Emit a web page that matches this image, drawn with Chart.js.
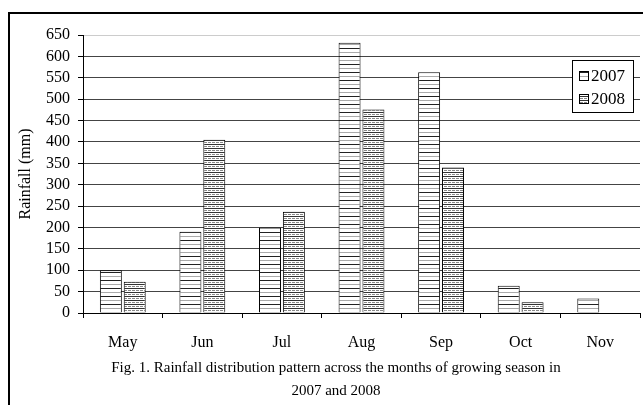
<!DOCTYPE html>
<html>
<head>
<meta charset="utf-8">
<script src="https://cdn.jsdelivr.net/npm/chart.js@4.4.1/dist/chart.umd.min.js"></script>
<style>
  html,body{margin:0;padding:0;background:#fff;}
  #wrap{position:relative;width:643px;height:405px;overflow:hidden;}
  #frame{position:absolute;left:8px;top:12px;width:700px;height:500px;border:2px solid #000;}
  canvas{position:absolute;left:0;top:0;}
</style>
</head>
<body>
<div id="wrap">
  <div id="frame"></div>
  <canvas id="rain" width="643" height="405"></canvas>
</div>
<script>
/* Rainfall distribution — Fig. 1 */
const months=['May','Jun','Jul','Aug','Sep','Oct','Nov'];
const rain2007=[100,190,200,632,563,64,34];
const rain2008=[73,405,237,476,340,25,0];
const seriesNames=['2007','2008'];
const yTicks=[0,50,100,150,200,250,300,350,400,450,500,550,600,650];
const caption=['Fig. 1. Rainfall distribution pattern across the months of growing season in','2007 and 2008'];
const serif='"Liberation Serif","Times New Roman",serif';

function makePattern(kind){
  const c=document.createElement('canvas');c.width=4;c.height=kind==='sparse'?8:4;
  const x=c.getContext('2d');x.fillStyle='#fff';x.fillRect(0,0,c.width,c.height);
  if(kind==='sparse'){x.fillStyle='#222';x.fillRect(0,0,4,1);x.fillStyle='#aaa';x.fillRect(0,4,4,1);}
  else{x.fillStyle='#333';x.fillRect(0,0,4,1);x.fillStyle='#888';x.fillRect(0,2,3,1);}
  return x.createPattern(c,'repeat');
}
const pat2007=makePattern('sparse');
const pat2008=makePattern('dense');

const decor={
  id:'decor',
  afterDraw(chart){
    const ctx=chart.ctx,a=chart.chartArea;
    ctx.save();
    // legend box
    const bx=a.right-68,by=a.top+25,bw=61,bh=52;
    ctx.fillStyle='#fff';ctx.fillRect(bx,by,bw,bh);
    ctx.strokeStyle='#000';ctx.lineWidth=1;ctx.strokeRect(bx+0.5,by+0.5,bw,bh);
    ctx.font='17px '+serif;ctx.textBaseline='middle';ctx.textAlign='left';
    chart.data.datasets.forEach(function(ds,i){
      const cy=by+16+i*23;
      ctx.fillStyle=ds.backgroundColor;ctx.fillRect(bx+7,cy-5,10,10);
      ctx.strokeStyle='#000';ctx.strokeRect(bx+7.5,cy-4.5,9,9);
      ctx.fillStyle='#000';ctx.fillText(ds.label,bx+19,cy+1);
    });
    // caption
    ctx.font='15px '+serif;ctx.textAlign='center';ctx.textBaseline='alphabetic';
    caption.forEach(function(t,i){ctx.fillText(t,336,372+i*23);});
    ctx.restore();
  }
};

new Chart(document.getElementById('rain'),{
  type:'bar',
  data:{labels:months,datasets:[
    {label:seriesNames[0],data:rain2007,backgroundColor:pat2007,borderColor:'#000',borderWidth:1,categoryPercentage:0.6,barPercentage:0.92},
    {label:seriesNames[1],data:rain2008,backgroundColor:pat2008,borderColor:'#000',borderWidth:1,categoryPercentage:0.6,barPercentage:0.92}
  ]},
  options:{
    responsive:false,animation:false,devicePixelRatio:1,
    layout:{padding:{left:0,right:3,top:35,bottom:0}},
    plugins:{legend:{display:false},tooltip:{enabled:false},title:{display:false}},
    scales:{
      x:{
        grid:{drawOnChartArea:false,offset:true,tickLength:5,color:'#000'},
        border:{color:'#000',width:1},
        ticks:{color:'#000',padding:15,font:{family:serif,size:16}},
        afterFit(s){s.height=92;}
      },
      y:{
        min:0,max:650,
        afterBuildTicks(s){s.ticks=yTicks.map(function(v){return {value:v};});},
        grid:{color:function(c){return c.tick&&c.tick.value===650?'#ccc':'#444';},tickColor:'#000',tickLength:5,lineWidth:1},
        border:{color:'#000',width:1},
        ticks:{color:'#000',padding:8,autoSkip:false,font:{family:serif,size:16}},
        title:{display:true,text:'Rainfall (mm)',color:'#000',font:{family:serif,size:16},padding:{top:16,bottom:0}},
        afterFit(s){s.width=83;}
      }
    }
  },
  plugins:[decor]
});
</script>
</body>
</html>
